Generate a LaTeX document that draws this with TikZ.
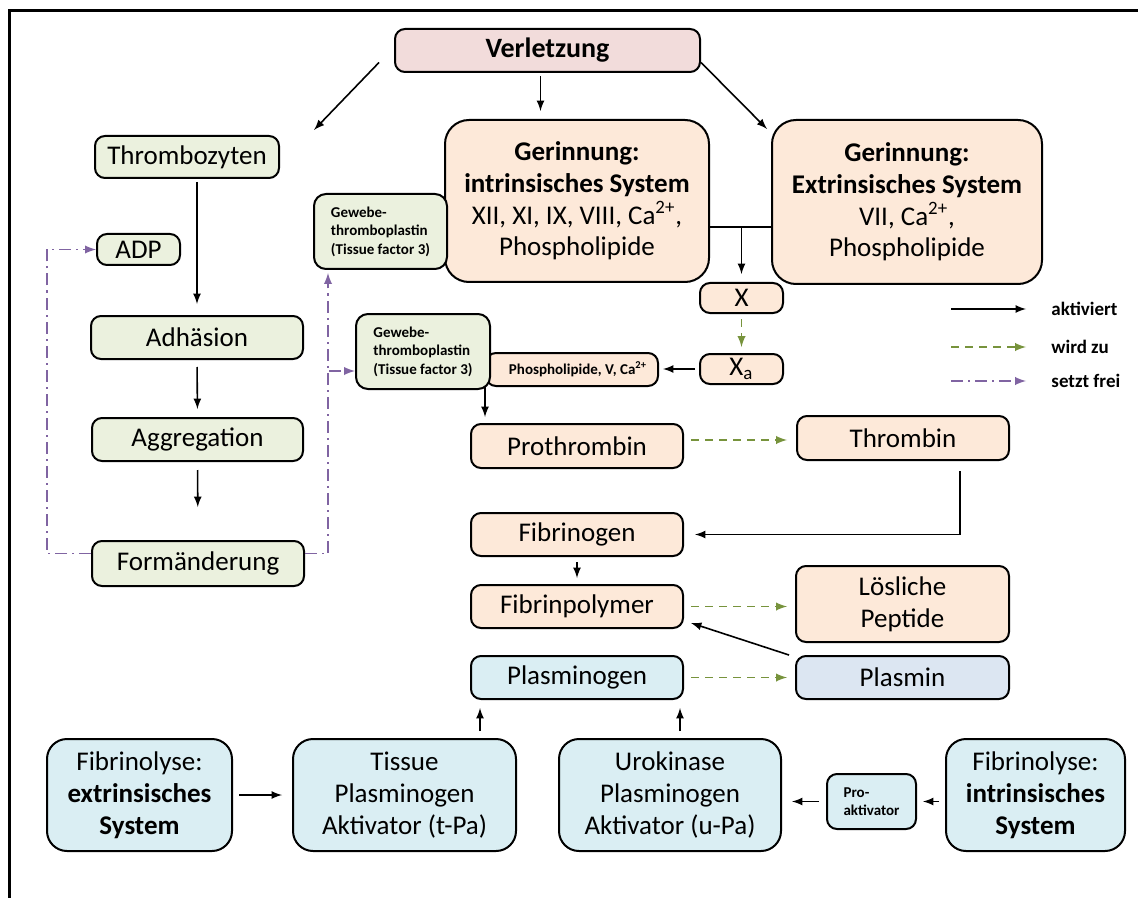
\documentclass[tikz,border=0pt]{standalone}
\usepackage{fontspec}
\setmainfont{Carlito}
\usepackage{tikz}

\definecolor{verlpink}{HTML}{F2DCDB}
\definecolor{thrgreen}{HTML}{EBF1DE}
\definecolor{gerpeach}{HTML}{FDE9D9}
\definecolor{fibblue}{HTML}{DAEEF3}
\definecolor{plasblue}{HTML}{DCE6F2}
\definecolor{wirdgreen}{HTML}{77933C}
\definecolor{freipurple}{HTML}{8064A2}

\tikzset{
  nbox/.style={draw, line width=1pt, rounded corners=5pt, align=center, inner sep=1pt,
    font=\fontsize{13.5}{16}\selectfont},
  greenbox/.style={nbox, fill=thrgreen},
  peachbox/.style={nbox, fill=gerpeach},
  bluebox/.style={nbox, fill=fibblue},
  tinybox/.style={nbox, align=left, font=\fontsize{7.5}{9.3}\selectfont\bfseries},
  act/.style={-latex, line width=0.8pt},
  wird/.style={-latex, line width=0.9pt, wirdgreen, dash pattern=on 4pt off 3pt},
  frei/.style={-latex, line width=0.9pt, freipurple, dash pattern=on 6pt off 2.5pt on 1pt off 2.5pt},
  legtxt/.style={anchor=west, inner sep=0pt, font=\fontsize{9.5}{11}\selectfont\bfseries}
}

\begin{document}
\begin{tikzpicture}[x=0.5pt,y=-0.5pt]
\useasboundingbox (0,0) rectangle (1138,898);
\draw[line width=1.5pt] (1138,11) -- (9,11) -- (9,898);

\node[nbox, fill=verlpink, minimum width=152.5pt, minimum height=21.5pt, font=\fontsize{14}{16}\selectfont\bfseries] (verl) at (547.5,50.5) {Verletzung};

% Thrombozyten
\node[greenbox, minimum width=92pt, minimum height=21pt] (thr) at (187,157) {Thrombozyten};
\node[greenbox, minimum width=41.5pt, minimum height=15.5pt] (adp) at (138.5,249.5) {ADP};
\node[greenbox, minimum width=106pt, minimum height=21.5pt] (adh) at (197,337.5) {Adhäsion};
\node[greenbox, minimum width=105.5pt, minimum height=21.5pt] (agg) at (197.5,439.5) {Aggregation};
\node[greenbox, minimum width=106pt, minimum height=22.5pt] (form) at (198,563.5) {Formänderung};

% Gerinnung
\node[peachbox, rounded corners=12pt, minimum width=132pt, minimum height=81pt, font=\fontsize{13.5}{15.8}\selectfont] (intr) at (577,201)
  {\textbf{Gerinnung:}\\\textbf{intrinsisches System}\\XII, XI, IX, VIII, Ca\textsuperscript{2+},\\Phospholipide};
\node[peachbox, rounded corners=12pt, minimum width=135pt, minimum height=82pt, font=\fontsize{13.5}{15.8}\selectfont] (ext) at (907,202)
  {\textbf{Gerinnung:}\\\textbf{Extrinsisches System}\\VII, Ca\textsuperscript{2+},\\Phospholipide};
\node[tinybox, fill=thrgreen, rounded corners=6pt, minimum width=66.5pt, minimum height=37.5pt] (gewa) at (380.5,231.5)
  {Gewebe-\\thromboplastin\\(Tissue factor 3)};

\node[peachbox, minimum width=41.5pt, minimum height=15pt] (xf) at (741.5,298) {X};
\node[peachbox, minimum width=41.5pt, minimum height=15pt] (xa) at (741.5,369) {X\textsubscript{a}};
\node[peachbox, minimum width=86pt, minimum height=16.5pt, font=\fontsize{7.5}{9}\selectfont\bfseries] (phos) at (572,369.5)
  {\hspace*{6pt}Phospholipide, V, Ca\textsuperscript{2+}};
\node[tinybox, fill=thrgreen, rounded corners=6pt, minimum width=67pt, minimum height=37.5pt] (gewb) at (423,351.5)
  {Gewebe-\\thromboplastin\\(Tissue factor 3)};

\node[peachbox, minimum width=106pt, minimum height=22pt] (proth) at (577,446) {Prothrombin};
\node[peachbox, minimum width=106pt, minimum height=22pt] (thrb) at (903,438) {Thrombin};
\node[peachbox, minimum width=106pt, minimum height=21.5pt] (fibg) at (577,534.5) {Fibrinogen};
\node[peachbox, minimum width=106pt, minimum height=21.5pt] (fibp) at (577,606.5) {Fibrinpolymer};
\node[peachbox, minimum width=106.5pt, minimum height=38pt] (loes) at (902.5,604) {Lösliche\\Peptide};
\node[bluebox, minimum width=106pt, minimum height=21.5pt] (plg) at (577,677.5) {Plasminogen};
\node[nbox, fill=plasblue, minimum width=106.5pt, minimum height=21.5pt] (pls) at (902.5,677.5) {Plasmin};

% Fibrinolyse
\node[bluebox, rounded corners=10pt, minimum width=92.5pt, minimum height=56pt] (fext) at (139.5,795)
  {Fibrinolyse:\\\textbf{extrinsisches}\\\textbf{System}};
\node[bluebox, rounded corners=10pt, minimum width=111.5pt, minimum height=56pt] (tpa) at (404.5,795)
  {Tissue\\Plasminogen\\Aktivator (t-Pa)};
\node[bluebox, rounded corners=10pt, minimum width=111pt, minimum height=56pt] (upa) at (670,795)
  {Urokinase\\Plasminogen\\Aktivator (u-Pa)};
\node[tinybox, fill=fibblue, minimum width=44.5pt, minimum height=27.5pt] (pro) at (871.5,801.5) {Pro-\\aktivator};
\node[bluebox, rounded corners=10pt, minimum width=89.5pt, minimum height=56pt] (fint) at (1035.5,795)
  {Fibrinolyse:\\\textbf{intrinsisches}\\\textbf{System}};

% legend
\node[legtxt] (lga) at (1051,309) {aktiviert};
\node[legtxt] (lgb) at (1051,347) {wird zu};
\node[legtxt] (lgc) at (1051,381) {setzt frei};
\draw[act] ([xshift=-50pt]lga.west) -- ([xshift=-12.5pt]lga.west);
\draw[wird] ([xshift=-50pt]lgb.west) -- ([xshift=-12.5pt]lgb.west);
\draw[frei] ([xshift=-50pt]lgc.west) -- ([xshift=-12.5pt]lgc.west);

% connectors
\draw[act] ([xshift=-7.5pt,yshift=-6pt]verl.west) -- ([xshift=17pt,yshift=2.5pt]thr.north east);
\coordinate (vs) at ([xshift=-3.5pt]verl.south);
\draw[act, shorten <=1.5pt, shorten >=4pt] (vs) -- (vs |- intr.north);
\draw[act] ([yshift=-6pt]verl.east) -- ([xshift=-2pt,yshift=-5pt]ext.north west);

\draw[act, shorten <=1.5pt, shorten >=5.5pt] (thr.south -| adh.north) -- (adh.north);
\draw[act, shorten <=3.5pt, shorten >=4pt] (adh.south) -- (agg.north);
\draw[act, shorten <=4pt, shorten >=16.5pt] (agg.south) -- (form.north);

\draw[frei] ([yshift=5pt]form.west) -- ++(-22pt,0) |- (adp.west);
\coordinate (fr) at ([xshift=7.5pt]gewa.south west);
\draw[frei, shorten >=1.5pt] ([yshift=5pt]form.east) -| (fr);
\coordinate (fb) at (329,371);
\draw[frei] (fb) -- (fb -| gewb.west);

\coordinate (jn) at (741.5,227);
\draw[line width=0.8pt] (jn -| intr.east) -- (jn -| ext.west);
\draw[act, shorten >=4pt] (jn) -- (xf.north);
\draw[wird, shorten <=2.5pt, shorten >=3pt] (xf.south) -- (xa.north);
\draw[act, shorten <=2pt, shorten >=2pt] (xa.west) -- (xa.west -| phos.east);
\draw[act, shorten >=3pt] (phos.south west) -- (phos.south west |- proth.north);

\coordinate (pt) at ([yshift=3pt]proth.east);
\draw[wird, shorten <=3.5pt, shorten >=4.5pt] (pt) -- (pt -| thrb.west);
\draw[act, shorten <=5pt, shorten >=5.5pt] ([xshift=28.5pt]thrb.south) |- (fibg.east);
\draw[act, shorten <=2.5pt, shorten >=3pt] (fibg.south) -- (fibp.north);
\draw[wird, shorten <=3.5pt, shorten >=4pt] (fibp.east) -- (fibp.east -| loes.west);
\draw[act] ([xshift=-3pt]pls.north west) -- ([xshift=3.5pt,yshift=3pt]fibp.south east);
\draw[wird, shorten <=3.5pt, shorten >=4pt] (plg.east) -- (pls.west);

\coordinate (pa) at ([xshift=5pt]plg.south west);
\coordinate (pb) at ([xshift=-2pt]plg.south east);
\draw[act, shorten <=3.5pt, shorten >=4pt] (pa |- tpa.north) -- (pa);
\draw[act, shorten <=3.5pt, shorten >=4pt] (pb |- upa.north) -- (pb);
\draw[act, shorten <=3pt, shorten >=5pt] (fext.east) -- (tpa.west);
\draw[act, shorten <=3.5pt, shorten >=5pt] (pro.west) -- (pro.west -| upa.east);
\draw[act, shorten <=3pt, shorten >=3pt] (fint.west |- pro.east) -- (pro.east);
\end{tikzpicture}
\end{document}
